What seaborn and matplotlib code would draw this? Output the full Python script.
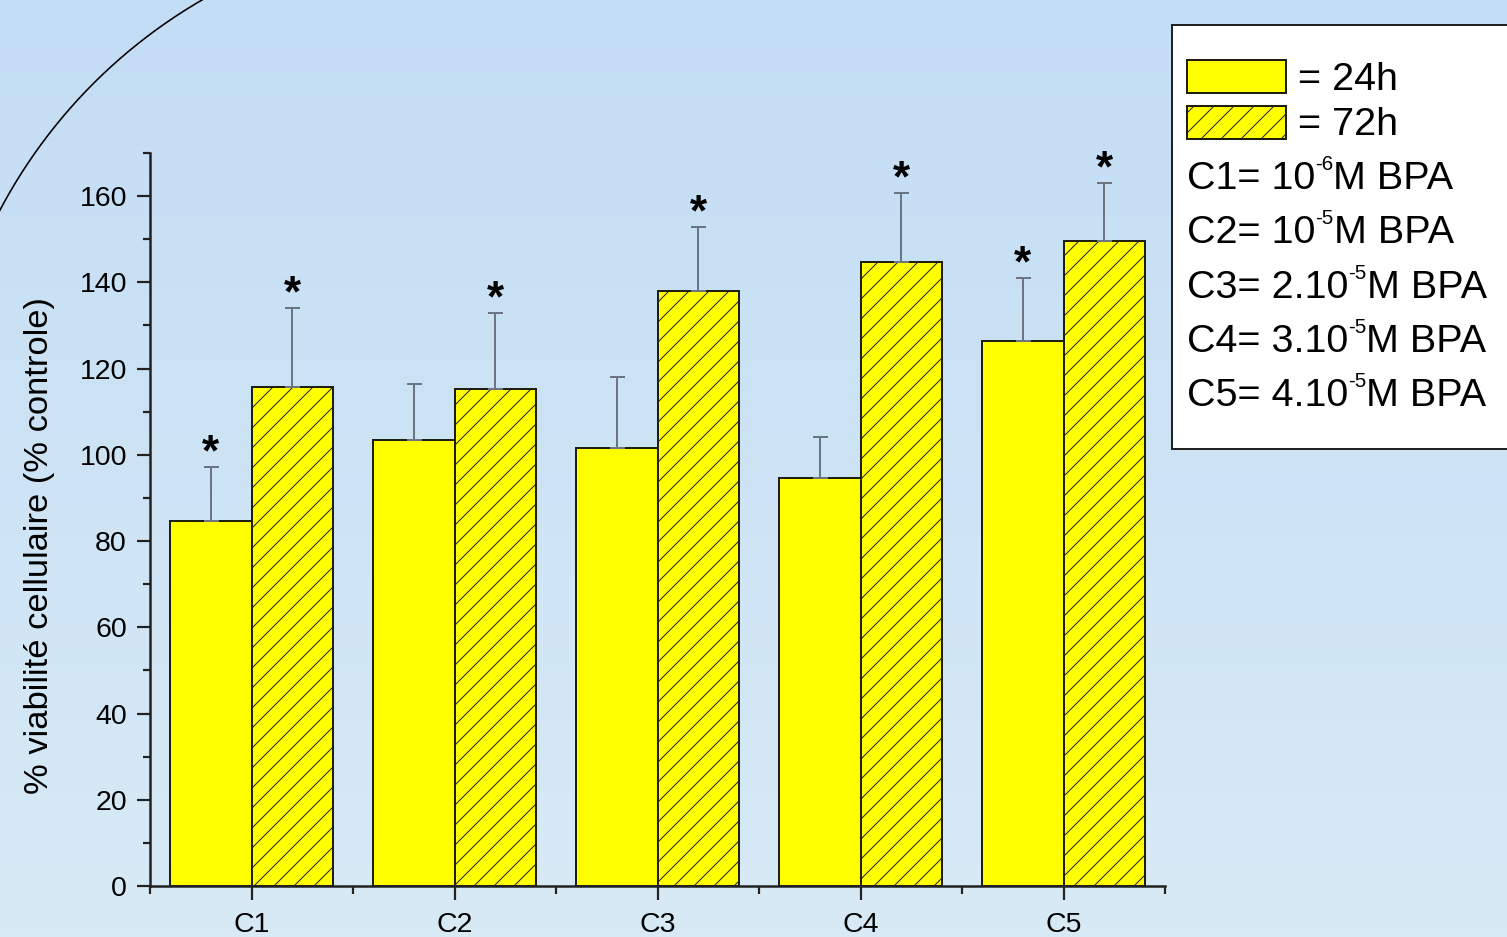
import numpy as np
import pandas as pd
import matplotlib
matplotlib.use("Agg")
import matplotlib.pyplot as plt
from matplotlib.patches import Rectangle
from matplotlib.text import Annotation
import seaborn as sns

# ---- data -------------------------------------------------------------
concentrations = ["C1", "C2", "C3", "C4", "C5"]
viab_24h = [84.6, 103.4, 101.6, 94.6, 126.4]
viab_72h = [115.7, 115.2, 137.9, 144.8, 149.6]
sd_24h = [12.6, 13.0, 16.4, 9.5, 14.6]
sd_72h = [18.3, 17.7, 15.0, 16.0, 13.4]
signif_24h = [True, False, False, False, True]
signif_72h = [True, True, True, True, True]
time_levels = ["24h", "72h"]
time_labels = ["= 24h", "= 72h"]
dose_main = ["C1= 10", "C2= 10", "C3= 2.10", "C4= 3.10", "C5= 4.10"]
dose_exp = ["-6", "-5", "-5", "-5", "-5"]
dose_tail = "M BPA"
y_label = "% viabilité cellulaire (% controle)"

# ---- figure geometry (pixels) ------------------------------------------
DPI = 120
W, H = 1507, 937
HATCH = "//"


def pt(px):
    return px * 72.0 / DPI


def fx(px):
    return px / W


def fy(px):
    return 1.0 - px / H


YELLOW = "#ffff00"
EDGE = "#1e1e14"
AXCOL = "#222222"

sns.set_theme(style="ticks")
plt.rcParams["font.family"] = ["Liberation Sans", "DejaVu Sans"]
plt.rcParams["hatch.linewidth"] = pt(1.0)
plt.rcParams["hatch.color"] = "#111111"

fig = plt.figure(figsize=(W / DPI, H / DPI), dpi=DPI)

# soft vertical blue gradient behind everything
bg = fig.add_axes([0, 0, 1, 1], zorder=-10)
c_top = np.array([195, 221, 244]) / 255.0
c_bot = np.array([216, 234, 246]) / 255.0
t = np.linspace(0, 1, 256)[:, None, None]
grad = np.repeat(c_top * (1 - t) + c_bot * t, 2, axis=1)
bg.imshow(grad, aspect="auto", extent=[0, 1, 0, 1], origin="upper")
# decorative arc in the upper-left corner
cx, cy, r = 467.0, 457.0, 528.3
theta = np.radians(np.linspace(110, 160, 200))
bg.plot((cx + r * np.cos(theta)) / W, 1 - (cy - r * np.sin(theta)) / H,
        color="black", lw=pt(1.6))
bg.set_xlim(0, 1)
bg.set_ylim(0, 1)
bg.set_axis_off()

# ---- bar chart ---------------------------------------------------------
ax = fig.add_axes([fx(150), fy(886), fx(1165) - fx(150), fy(153) - fy(886)])
ax.patch.set_alpha(0)

df = pd.DataFrame({
    "conc": concentrations * 2,
    "value": viab_24h + viab_72h,
    "time": [time_levels[0]] * len(concentrations) + [time_levels[1]] * len(concentrations),
})
sns.barplot(data=df, x="conc", y="value", hue="time", order=concentrations,
            hue_order=time_levels, palette={k: YELLOW for k in time_levels},
            saturation=1, errorbar=None, width=0.8, edgecolor=EDGE,
            linewidth=pt(2.0), legend=False, ax=ax)

for bar in ax.containers[1]:
    bar.set_hatch(HATCH)

for cont, vals, sds, sig in zip(ax.containers, [viab_24h, viab_72h],
                                [sd_24h, sd_72h], [signif_24h, signif_72h]):
    xs = [b.get_x() + b.get_width() / 2 for b in cont]
    ax.errorbar(xs, vals, yerr=[np.zeros(len(sds)), sds], fmt="none",
                ecolor="#6b7682", elinewidth=pt(2.0), capsize=pt(7.5),
                capthick=pt(2.0), zorder=3)
    for x, v, s, flag in zip(xs, vals, sds, sig):
        if flag:
            ax.annotate("*", xy=(x, v + s), xytext=(0, pt(1.5)),
                        textcoords="offset points", ha="center",
                        va="baseline", fontsize=pt(44), fontweight="bold",
                        color="black")

ax.set_xlim(-0.5, 4.5)
ax.set_ylim(0, 170)
ax.set_yticks(np.arange(0, 161, 20))
ax.set_yticks(np.arange(10, 171, 20), minor=True)
ax.set_xticks(range(len(concentrations)))
ax.set_xticklabels(concentrations)
ax.set_xticks(np.arange(-0.5, 4.6, 1.0), minor=True)

for side in ("top", "right"):
    ax.spines[side].set_visible(False)
for side in ("left", "bottom"):
    ax.spines[side].set_linewidth(pt(2.5))
    ax.spines[side].set_color(AXCOL)

ax.tick_params(axis="y", which="major", direction="out", length=pt(13),
               width=pt(2.2), color=AXCOL, labelsize=pt(28.5),
               labelcolor="black", pad=pt(10))
ax.tick_params(axis="y", which="minor", direction="out", length=pt(7),
               width=pt(2.2), color=AXCOL)
ax.tick_params(axis="x", which="major", direction="out", length=pt(14),
               width=pt(2.2), color=AXCOL, labelsize=pt(28.5),
               labelcolor="black", pad=pt(12))
ax.tick_params(axis="x", which="minor", direction="out", length=pt(8),
               width=pt(2.2), color=AXCOL)

ax.set_xlabel("")
ax.set_ylabel(y_label, fontsize=pt(34.5), color="black")
ax.yaxis.set_label_coords(-0.094, 0.465)

# ---- legend panel ------------------------------------------------------
fig.add_artist(Rectangle((fx(1172), fy(449)), fx(1530) - fx(1172),
                         fy(25) - fy(449), transform=fig.transFigure,
                         facecolor="white", edgecolor=AXCOL, lw=pt(2),
                         zorder=4))

LEG_FS = pt(39.5)
SUP_FS = pt(20.5)

key_tops = [60, 106]
key_baselines = [90, 135]
for i, (top, base, lab) in enumerate(zip(key_tops, key_baselines, time_labels)):
    fig.add_artist(Rectangle((fx(1187), fy(top + 33)), fx(1286) - fx(1187),
                             fy(top) - fy(top + 33), transform=fig.transFigure,
                             facecolor=YELLOW, edgecolor=EDGE, lw=pt(2.0),
                             hatch=HATCH if i == 1 else None, zorder=5))
    fig.text(fx(1298), fy(base), lab, fontsize=LEG_FS, ha="left",
             va="baseline", color="black", zorder=6)

row_baselines = [189, 243, 298, 352, 406]
for base, main, exp in zip(row_baselines, dose_main, dose_exp):
    t_main = fig.text(fx(1187), fy(base), main, fontsize=LEG_FS, ha="left",
                      va="baseline", color="black", zorder=6)
    t_sup = Annotation(exp, xy=(1.0, fy(base - 19)),
                       xycoords=(t_main, "figure fraction"), fontsize=SUP_FS,
                       ha="left", va="baseline", color="black", zorder=6)
    fig.add_artist(t_sup)
    t_tail = Annotation(dose_tail, xy=(1.0, fy(base)),
                        xycoords=(t_sup, "figure fraction"), fontsize=LEG_FS,
                        ha="left", va="baseline", color="black", zorder=6)
    fig.add_artist(t_tail)

fig.savefig("out.png", dpi=DPI)
